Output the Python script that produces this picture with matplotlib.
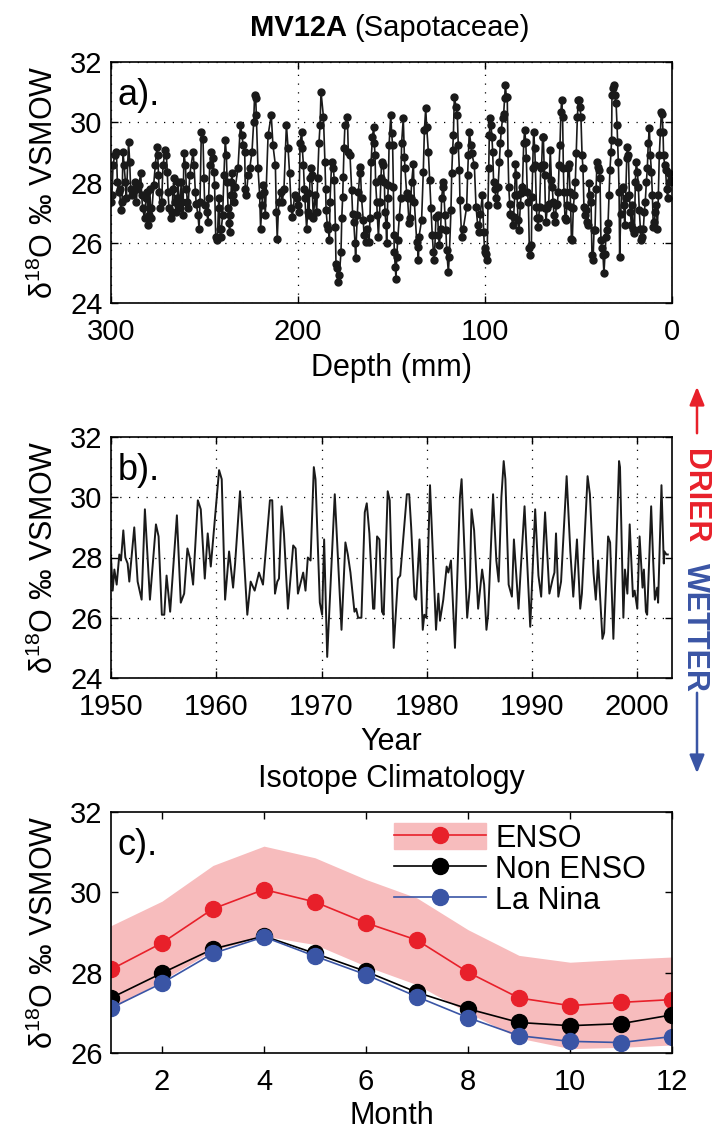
import matplotlib
matplotlib.use('Agg')
import matplotlib.pyplot as plt
from matplotlib.patches import Patch, FancyArrowPatch

plt.rcParams['font.family'] = ['Liberation Sans', 'DejaVu Sans']
plt.rcParams['mathtext.fontset'] = 'custom'
plt.rcParams['mathtext.rm'] = 'Liberation Sans'

# ---- panel a: d18O along the core (depth in mm) ----
depth_a = [299.8, 299.5, 298.9, 298.0, 297.1, 296.6, 295.9, 295.4, 294.8, 294.1,
           293.6, 293.0, 292.3, 291.8, 290.6, 290.0, 289.5, 288.8, 287.3, 286.5,
           285.9, 285.2, 284.1, 283.6, 283.1, 282.0, 281.3, 280.6, 280.2, 279.9,
           279.3, 278.8, 278.4, 277.2, 276.3, 275.4, 275.0, 274.6, 274.2, 273.6,
           272.9, 272.2, 270.9, 270.4, 269.9, 269.5, 269.0, 268.1, 267.4, 266.8,
           266.3, 266.0, 265.1, 264.5, 264.2, 263.3, 262.4, 262.0, 261.5, 261.0,
           260.2, 259.7, 259.2, 258.8, 257.9, 256.1, 255.6, 254.9, 254.4, 253.5,
           252.9, 252.4, 251.7, 250.8, 250.3, 249.9, 248.8, 248.1, 247.8, 247.2,
           246.3, 245.6, 244.9, 244.6, 244.0, 243.1, 242.4, 242.1, 241.9, 241.4,
           241.0, 240.3, 239.6, 238.9, 238.3, 237.9, 237.4, 237.1, 236.5, 236.2,
           235.9, 235.6, 235.3, 234.8, 234.2, 233.5, 232.1, 230.8, 229.9, 229.4,
           228.5, 228.2, 227.6, 226.7, 225.8, 224.6, 223.7, 223.2, 222.6, 222.3,
           221.4, 220.5, 220.0, 219.3, 218.7, 218.2, 217.5, 216.0, 214.3, 213.4,
           212.1, 211.6, 211.1, 210.3, 209.3, 208.4, 207.5, 206.2, 205.3, 204.5,
           203.6, 203.0, 201.8, 200.7, 200.2, 199.5, 198.9, 198.0, 197.7, 197.1,
           196.6, 196.3, 195.4, 194.8, 194.5, 194.1, 193.6, 193.0, 192.7, 191.8,
           190.9, 190.0, 189.5, 188.8, 188.2, 187.7, 186.4, 185.6, 185.2, 185.0,
           184.3, 183.8, 183.2, 182.9, 182.0, 181.1, 180.6, 180.0, 179.7, 179.1,
           178.8, 177.9, 177.0, 176.6, 176.1, 175.8, 175.4, 174.9, 173.6, 173.1,
           172.2, 171.3, 170.8, 170.2, 169.5, 169.2, 168.3, 167.7, 167.0, 166.7,
           166.0, 165.1, 164.7, 163.8, 163.3, 162.0, 161.5, 160.9, 160.2, 159.5,
           159.2, 158.8, 158.5, 157.9, 157.6, 157.0, 156.1, 155.6, 155.3, 154.4,
           153.8, 153.5, 152.9, 152.6, 152.0, 151.7, 151.3, 150.4, 149.9, 149.4,
           149.0, 148.7, 148.5, 148.0, 147.6, 147.2, 146.7, 145.8, 145.1, 144.6,
           143.7, 143.1, 142.8, 141.9, 141.4, 140.6, 140.1, 139.7, 139.2, 138.3,
           137.8, 136.5, 136.0, 135.6, 135.3, 133.9, 133.0, 132.4, 131.7, 131.2,
           130.3, 129.6, 128.9, 128.2, 127.6, 127.1, 126.2, 125.3, 124.9, 124.4,
           123.7, 123.2, 122.6, 122.3, 121.4, 120.9, 120.5, 119.6, 119.1, 118.2,
           117.8, 117.3, 116.9, 116.4, 115.5, 114.8, 114.3, 113.7, 113.4, 112.5,
           111.6, 109.8, 109.3, 108.9, 108.4, 107.5, 107.1, 105.7, 104.8, 103.9,
           103.0, 102.5, 101.4, 100.7, 100.2, 99.8, 99.5, 98.9, 98.4, 98.0,
           97.7, 97.1, 96.8, 96.3, 95.9, 95.4, 94.8, 94.1, 93.6, 93.0,
           92.3, 91.8, 91.3, 90.6, 90.0, 89.5, 89.1, 88.6, 88.1, 87.7,
           87.3, 86.8, 86.4, 85.9, 85.2, 84.7, 84.1, 83.8, 83.2, 82.9,
           82.3, 81.8, 81.1, 80.6, 80.0, 79.3, 78.8, 78.2, 77.9, 77.4,
           76.8, 76.3, 75.8, 75.2, 74.9, 74.5, 74.0, 73.4, 73.1, 72.5,
           72.2, 71.7, 71.3, 70.8, 70.2, 69.7, 69.2, 68.8, 68.4, 68.1,
           67.7, 67.4, 66.7, 65.9, 65.1, 64.5, 64.0, 63.6, 63.1, 62.4,
           61.9, 61.3, 60.8, 60.4, 59.9, 59.4, 59.0, 58.5, 58.1, 57.8,
           57.2, 56.7, 56.2, 55.6, 55.1, 54.5, 54.2, 53.8, 53.3, 52.8,
           52.2, 51.7, 51.2, 50.6, 50.1, 49.6, 49.2, 48.7, 48.1, 47.6,
           47.1, 46.5, 46.0, 45.5, 44.9, 44.4, 43.9, 43.3, 42.8, 42.2,
           41.7, 41.2, 40.6, 40.1, 39.6, 39.0, 38.5, 38.0, 37.4, 36.9,
           36.4, 35.8, 35.3, 34.8, 34.2, 33.7, 33.2, 32.6, 32.3, 32.1,
           31.5, 31.0, 30.5, 29.9, 29.4, 29.1, 28.7, 28.3, 28.0, 27.4,
           26.9, 26.4, 25.8, 25.3, 24.8, 24.2, 23.9, 23.3, 22.8, 22.3,
           21.7, 21.2, 20.7, 20.1, 19.6, 19.1, 18.5, 18.0, 17.5, 16.9,
           16.4, 15.9, 15.3, 14.8, 14.3, 13.7, 13.2, 12.7, 12.1, 11.6,
           11.0, 10.5, 10.0, 9.4, 8.9, 8.4, 7.8, 7.3, 6.8, 6.2,
           5.7, 5.3, 4.8, 4.5, 3.9, 3.4, 2.9, 2.3, 1.8, 1.2,
           0.7]
d18o_a = [27.36, 27.58, 28.58, 28.91, 29.02, 28.02, 27.69, 27.80, 27.08, 27.36,
          29.02, 28.58, 28.02, 27.47, 29.35, 28.69, 27.80, 27.58, 28.02, 27.36,
          27.80, 27.91, 28.30, 27.58, 27.14, 26.81, 27.47, 27.69, 26.58, 26.92,
          27.80, 27.14, 26.81, 27.91, 28.58, 29.19, 28.91, 28.25, 27.69, 27.14,
          27.36, 28.58, 29.08, 28.91, 28.36, 27.69, 27.14, 26.81, 27.03, 27.80,
          28.14, 27.36, 27.03, 27.47, 28.02, 27.14, 28.02, 27.36, 26.92, 28.97,
          28.58, 27.80, 27.36, 27.14, 28.25, 29.02, 28.58, 27.69, 27.30, 26.92,
          26.47, 27.36, 29.66, 29.46, 28.14, 27.25, 27.03, 26.70, 27.47, 28.58,
          29.02, 28.80, 28.36, 27.91, 26.20, 26.09, 27.47, 27.14, 26.47, 26.20,
          26.47, 26.92, 28.25, 29.41, 28.91, 28.02, 27.14, 26.64, 26.36, 26.92,
          27.58, 28.02, 28.30, 27.58, 27.36, 27.86, 28.47, 29.91, 29.57, 29.24,
          29.02, 27.80, 27.58, 28.25, 28.47, 29.02, 30.02, 30.90, 30.79, 30.24,
          28.47, 27.58, 26.47, 27.25, 27.91, 27.69, 26.92, 29.57, 30.24, 29.24,
          28.58, 27.03, 26.14, 27.36, 27.69, 27.36, 27.80, 29.91, 29.13, 28.30,
          27.14, 26.87, 27.58, 27.47, 27.25, 27.03, 29.30, 29.69, 29.13, 28.58,
          27.80, 27.47, 26.47, 27.03, 27.64, 26.92, 28.14, 28.47, 28.25, 26.81,
          27.58, 27.03, 28.14, 29.30, 29.91, 31.01, 30.18, 28.69, 27.80, 27.08,
          26.58, 26.47, 26.09, 27.36, 28.69, 28.47, 28.08, 26.53, 25.31, 25.15,
          24.70, 24.92, 25.70, 26.81, 27.53, 28.19, 29.13, 29.91, 30.18, 29.02,
          28.91, 27.75, 26.97, 26.70, 25.98, 25.48, 26.92, 27.69, 28.30, 28.52,
          27.47, 26.75, 26.25, 26.03, 26.47, 26.03, 26.81, 28.69, 29.52, 29.85,
          29.30, 28.91, 28.02, 27.36, 26.92, 26.20, 27.36, 28.14, 28.69, 28.58,
          28.02, 27.03, 26.58, 25.98, 27.47, 27.91, 29.24, 30.24, 29.63, 29.24,
          27.86, 26.25, 25.70, 25.20, 24.81, 25.53, 26.09, 26.86, 27.47, 29.30,
          30.13, 28.85, 28.47, 27.64, 27.47, 26.64, 26.81, 27.47, 28.02, 28.63,
          27.36, 26.03, 25.86, 25.42, 26.20, 26.75, 28.36, 29.74, 30.46, 29.85,
          29.02, 28.08, 27.14, 26.25, 25.70, 25.42, 26.86, 26.92, 26.25, 25.92,
          26.47, 27.47, 27.86, 28.02, 26.92, 26.42, 25.75, 25.03, 25.53, 27.08,
          28.30, 29.08, 29.57, 30.85, 30.52, 30.24, 29.24, 28.41, 27.42, 26.20,
          26.47, 27.19, 28.25, 28.91, 29.69, 29.24, 28.97, 28.58, 27.19, 26.58,
          26.36, 26.97, 27.58, 26.36, 25.70, 25.81, 25.64, 25.42, 27.25, 28.47,
          29.57, 30.13, 29.91, 29.52, 29.02, 28.02, 27.80, 27.47, 27.25, 27.86,
          28.69, 29.30, 29.74, 30.13, 30.29, 30.79, 31.24, 30.85, 30.85, 28.97,
          27.86, 27.30, 26.97, 26.92, 26.58, 26.86, 27.58, 28.63, 28.25, 27.58,
          26.75, 26.42, 27.25, 27.64, 27.86, 29.30, 29.74, 29.35, 28.80, 27.69,
          27.36, 25.81, 25.59, 25.92, 27.53, 28.47, 29.69, 29.13, 28.58, 27.19,
          26.81, 26.53, 26.81, 27.19, 28.47, 28.58, 29.52, 29.52, 28.58, 28.25,
          27.14, 26.70, 27.14, 27.30, 29.08, 28.08, 27.86, 27.36, 26.92, 26.70,
          27.25, 27.30, 27.69, 28.58, 29.24, 30.35, 30.74, 30.18, 28.47, 27.69,
          26.81, 26.75, 27.25, 28.47, 28.63, 27.69, 27.19, 26.14, 26.09, 27.14,
          27.58, 28.02, 28.97, 30.18, 30.74, 30.74, 30.52, 30.18, 28.91, 28.47,
          27.19, 26.92, 27.08, 26.70, 26.58, 27.97, 27.58, 27.36, 25.59, 25.42,
          26.42, 26.42, 27.80, 28.69, 28.52, 28.41, 28.14, 26.09, 25.81, 25.59,
          24.98, 25.64, 26.20, 26.42, 26.64, 27.58, 28.41, 29.02, 29.41, 30.90,
          31.13, 31.24, 30.90, 30.63, 29.91, 29.35, 28.69, 27.69, 25.53, 26.97,
          27.80, 27.86, 27.25, 26.58, 27.47, 28.80, 29.19, 28.91, 27.58, 27.03,
          26.58, 27.25, 26.47, 26.31, 28.02, 28.69, 28.36, 27.86, 27.08, 26.47,
          26.09, 26.20, 26.47, 27.03, 27.36, 28.02, 28.47, 29.30, 29.80, 28.91,
          28.36, 27.58, 26.53, 26.70, 27.03, 27.25, 26.47, 27.58, 28.91, 29.69,
          30.35, 30.29, 29.69, 28.91, 28.58, 28.41, 27.80, 27.47, 28.30, 28.02,
          28.08]

# ---- panel b: the same record on a time axis ----
year_b = [1950.00, 1950.16, 1950.32, 1950.54, 1950.79, 1950.95, 1951.17, 1951.36, 1951.58, 1951.74,
          1952.21, 1952.53, 1952.91, 1953.22, 1953.70, 1954.27, 1954.52, 1954.83, 1955.06, 1955.28,
          1955.62, 1956.26, 1956.63, 1956.95, 1957.26, 1957.48, 1957.80, 1958.25, 1958.53, 1958.91,
          1959.19, 1959.48, 1959.95, 1960.27, 1960.52, 1960.84, 1961.22, 1961.60, 1961.79, 1962.26,
          1962.95, 1963.27, 1963.65, 1964.06, 1964.44, 1965.10, 1965.32, 1965.58, 1965.80, 1965.96,
          1966.21, 1966.43, 1966.81, 1967.31, 1967.54, 1967.76, 1968.26, 1968.48, 1968.70, 1968.96,
          1969.27, 1969.43, 1969.84, 1970.06, 1970.25, 1970.54, 1971.26, 1971.90, 1972.27, 1972.50,
          1972.75, 1973.13, 1973.29, 1973.48, 1973.79, 1974.11, 1974.30, 1974.55, 1974.90, 1975.02,
          1975.28, 1975.50, 1975.75, 1975.91, 1976.29, 1976.48, 1976.86, 1977.26, 1977.48, 1978.11,
          1978.33, 1978.52, 1978.83, 1978.99, 1979.31, 1979.62, 1979.77, 1979.95, 1980.31, 1980.63,
          1980.88, 1981.10, 1981.26, 1981.57, 1981.89, 1982.05, 1982.30, 1982.68, 1983.15, 1983.31,
          1983.84, 1984.09, 1984.25, 1984.50, 1984.88, 1985.26, 1985.45, 1985.67, 1985.83, 1986.30,
          1986.61, 1986.83, 1987.09, 1987.31, 1987.47, 1987.78, 1988.09, 1988.28, 1988.72, 1988.91,
          1989.29, 1989.83, 1990.30, 1990.61, 1990.87, 1991.24, 1991.65, 1991.97, 1992.13, 1992.28,
          1992.50, 1992.76, 1993.29, 1993.64, 1993.92, 1994.27, 1994.58, 1994.74, 1995.28, 1995.50,
          1995.84, 1996.06, 1996.28, 1996.69, 1996.85, 1997.23, 1997.42, 1997.73, 1998.27, 1998.36,
          1998.68, 1998.83, 1999.06, 1999.28, 1999.59, 1999.75, 2000.00, 2000.22, 2000.50, 2000.63,
          2000.82, 2000.94, 2001.32, 2001.51, 2001.67, 2001.89, 2001.98, 2002.30, 2002.52, 2002.58,
          2002.77, 2002.90]
d18o_b = [28.0, 26.9, 27.6, 27.1, 28.1, 27.9, 28.9, 28.0, 27.8, 27.2,
          29.0, 27.2, 26.6, 29.6, 26.6, 29.1, 28.7, 26.1, 26.1, 27.4,
          26.2, 29.4, 26.5, 26.8, 28.3, 28.0, 27.1, 29.9, 29.6, 27.3,
          28.8, 27.7, 29.6, 30.9, 30.6, 26.6, 28.2, 27.0, 27.8, 30.2,
          26.1, 27.2, 26.9, 27.5, 27.1, 29.9, 29.9, 26.8, 27.2, 27.3,
          29.7, 28.8, 26.3, 28.4, 28.3, 26.8, 27.5, 26.9, 28.0, 27.9,
          31.0, 30.6, 26.5, 26.1, 28.6, 24.7, 30.1, 25.6, 28.5, 28.1,
          27.5, 26.2, 26.3, 26.0, 26.0, 29.5, 29.8, 28.8, 26.3, 26.3,
          28.7, 28.6, 26.2, 26.1, 30.2, 29.9, 25.0, 27.3, 27.4, 30.1,
          30.1, 29.0, 26.7, 26.6, 28.6, 25.6, 26.1, 26.0, 30.4, 27.7,
          25.6, 26.8, 25.9, 26.6, 27.7, 27.5, 27.9, 25.0, 30.0, 30.6,
          26.0, 27.0, 29.6, 28.9, 26.3, 27.6, 27.1, 25.6, 26.1, 30.1,
          27.9, 27.2, 30.0, 31.2, 30.6, 27.1, 26.7, 28.6, 26.3, 27.5,
          29.7, 25.7, 29.6, 27.4, 26.7, 29.5, 26.8, 27.3, 27.5, 28.8,
          26.7, 27.2, 30.7, 28.2, 26.7, 28.6, 26.3, 26.8, 30.7, 30.1,
          27.5, 26.6, 27.9, 25.3, 25.5, 28.7, 28.5, 25.3, 31.2, 31.0,
          26.0, 27.6, 26.8, 29.1, 26.7, 26.9, 26.3, 28.7, 27.0, 27.6,
          26.2, 26.1, 29.7, 27.9, 26.6, 27.0, 26.5, 30.4, 27.8, 28.2,
          28.1, 28.1]

# ---- panel c: monthly isotope climatology ----
months = [1, 2, 3, 4, 5, 6, 7, 8, 9, 10, 11, 12]
enso = [28.08, 28.74, 29.59, 30.07, 29.76, 29.24, 28.81, 28.01, 27.37, 27.18, 27.26, 27.33]
enso_hi = [29.17, 29.78, 30.67, 31.15, 30.86, 30.32, 29.86, 29.07, 28.43, 28.26, 28.33, 28.39]
enso_lo = [27.10, 27.80, 28.55, 28.91, 28.70, 28.16, 27.70, 27.00, 26.37, 26.11, 26.14, 26.20]
non_enso = [27.37, 27.99, 28.59, 28.91, 28.48, 28.03, 27.51, 27.10, 26.76, 26.68, 26.73, 26.95]
la_nina = [27.12, 27.74, 28.48, 28.89, 28.41, 27.95, 27.40, 26.88, 26.43, 26.29, 26.26, 26.41]

RED = '#e8202a'
PINK = '#f7bcbd'
BLUE = '#3a55a5'
YLAB = 'δ$\\mathregular{^{18}}$O ‰ VSMOW'
FS = 21

W, H = 715, 1133
fig = plt.figure(figsize=(W / 100, H / 100), dpi=100)
left, width, hgt = 111 / W, 561 / W, 241 / H
ax_a = fig.add_axes([left, 1 - 303 / H, width, hgt])
ax_b = fig.add_axes([left, 1 - 678 / H, width, hgt])
ax_c = fig.add_axes([left, 1 - 1053 / H, width, hgt])


def style(ax, grid=True):
    ax.tick_params(direction='in', top=True, right=True, length=5, width=1,
                   labelsize=FS)
    ax.tick_params(axis='x', pad=11)
    ax.tick_params(axis='y', pad=6)
    for s in ax.spines.values():
        s.set_linewidth(1.2)
    if grid:
        ax.grid(True, linestyle=(0, (1, 6)), color='k', linewidth=0.9)
    ax.text(-0.118, 0.5, YLAB, transform=ax.transAxes, rotation=90,
            ha='center', va='center', fontsize=FS + 1)


# panel a
ax_a.plot(depth_a, d18o_a, '-o', color='#1a1a1a', lw=1.2, ms=5)
ax_a.set_xlim(300, 0)
ax_a.set_ylim(24, 32)
ax_a.set_xticks([300, 200, 100, 0])
ax_a.set_yticks([24, 26, 28, 30, 32])
style(ax_a)
ax_a.text(0.012, 0.86, 'a).', transform=ax_a.transAxes, fontsize=26,
          ha='left', va='center')
ax_a.text(0.5, -0.27, 'Depth (mm)', transform=ax_a.transAxes,
          ha='center', va='center', fontsize=FS + 1)
fig.text(347 / W, 1 - 28 / H, 'MV12A', ha='right', va='center',
         fontsize=FS, fontweight='bold')
fig.text(354 / W, 1 - 28 / H, '(Sapotaceae)', ha='left', va='center',
         fontsize=FS)

# panel b
ax_b.plot(year_b, d18o_b, '-', color='#1a1a1a', lw=1.4)
ax_b.set_xlim(1950, 2003.3)
ax_b.set_ylim(24, 32)
ax_b.set_xticks([1950, 1960, 1970, 1980, 1990, 2000])
ax_b.set_yticks([24, 26, 28, 30, 32])
style(ax_b)
ax_b.text(0.012, 0.86, 'b).', transform=ax_b.transAxes, fontsize=26,
          ha='left', va='center')
ax_b.text(0.5, -0.265, 'Year', transform=ax_b.transAxes,
          ha='center', va='center', fontsize=FS + 1)

# panel c
ax_c.fill_between(months, enso_lo, enso_hi, color=PINK, lw=0)
l_enso, = ax_c.plot(months, enso, '-o', color=RED, lw=1.2, ms=11.5)
l_non, = ax_c.plot(months, non_enso, '-o', color='k', lw=1.2, ms=11.5)
l_la, = ax_c.plot(months, la_nina, '-o', color=BLUE, lw=1.2, ms=11.5)
ax_c.set_xlim(1, 12)
ax_c.set_ylim(26, 32)
ax_c.set_xticks([2, 4, 6, 8, 10, 12])
ax_c.set_yticks([26, 28, 30, 32])
style(ax_c, grid=False)
ax_c.text(0.012, 0.86, 'c).', transform=ax_c.transAxes, fontsize=26,
          ha='left', va='center')
ax_c.text(0.5, -0.262, 'Month', transform=ax_c.transAxes,
          ha='center', va='center', fontsize=FS + 1)
ax_c.text(0.5, 1.135, 'Isotope Climatology', transform=ax_c.transAxes,
          ha='center', va='center', fontsize=FS + 1)
ax_c.legend([(Patch(color=PINK), l_enso), l_non, l_la],
            ['ENSO', 'Non ENSO', 'La Nina'], loc='upper right',
            bbox_to_anchor=(1 - 26 / 561, 1 - 11 / 241),
            frameon=False, fontsize=FS + 1, handlelength=3.0,
            handleheight=0.95, borderaxespad=0, borderpad=0,
            labelspacing=0.02, handletextpad=0.3)

# drier / wetter annotation on the right
fig.text(695 / W, 1 - 496 / H, 'DRIER', color=RED, rotation=-90,
         ha='center', va='center', fontsize=22, fontweight='bold')
fig.text(695 / W, 1 - 627 / H, 'WETTER', color=BLUE, rotation=-90,
         ha='center', va='center', fontsize=22, fontweight='bold')
fig.patches.append(FancyArrowPatch(
    (697 / W, 1 - 436 / H), (697 / W, 1 - 384 / H), transform=fig.transFigure,
    arrowstyle='-|>,head_length=11,head_width=4.5', color=RED, lw=1.8))
fig.patches.append(FancyArrowPatch(
    (697 / W, 1 - 690 / H), (697 / W, 1 - 776 / H), transform=fig.transFigure,
    arrowstyle='-|>,head_length=11,head_width=4.5', color=BLUE, lw=1.8))

fig.savefig('out.png', dpi=100)
